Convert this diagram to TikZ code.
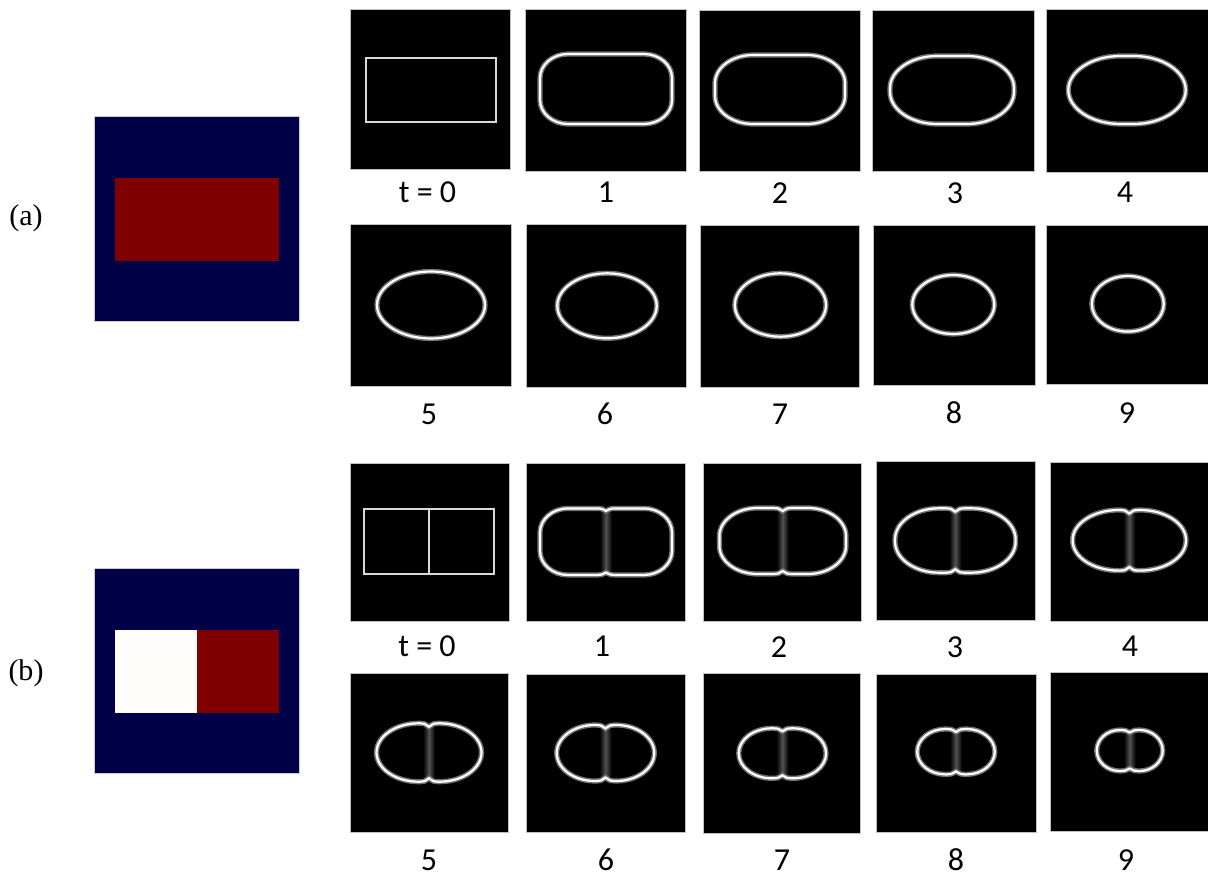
\documentclass[tikz,border=0pt]{standalone}
\usepackage{fontspec}
\setmainfont{Liberation Serif}
\newfontfamily\framefont{Carlito}
\definecolor{bgnavy}{RGB}{0,0,72}
\definecolor{hotred}{RGB}{128,0,0}
\newcommand{\frontpath}[7]{%
  ({#1},{#2-#4+#7}) .. controls ({#1-5},{#2-#4}) .. ({#1-9},{#2-#4})
  -- ({#1-#3+#5},{#2-#4}) .. controls ({#1-#3+0.45*#5},{#2-#4}) and ({#1-#3},{#2-#4+0.45*#6}) .. ({#1-#3},{#2-#4+#6})
  -- ({#1-#3},{#2+#4-#6}) .. controls ({#1-#3},{#2+#4-0.45*#6}) and ({#1-#3+0.45*#5},{#2+#4}) .. ({#1-#3+#5},{#2+#4})
  -- ({#1-9},{#2+#4}) .. controls ({#1-5},{#2+#4}) .. ({#1},{#2+#4-#7})
  .. controls ({#1+5},{#2+#4}) .. ({#1+9},{#2+#4})
  -- ({#1+#3-#5},{#2+#4}) .. controls ({#1+#3-0.45*#5},{#2+#4}) and ({#1+#3},{#2+#4-0.45*#6}) .. ({#1+#3},{#2+#4-#6})
  -- ({#1+#3},{#2-#4+#6}) .. controls ({#1+#3},{#2-#4+0.45*#6}) and ({#1+#3-0.45*#5},{#2-#4}) .. ({#1+#3-#5},{#2-#4})
  -- ({#1+9},{#2-#4}) .. controls ({#1+5},{#2-#4}) .. cycle}
\newcommand{\seam}[3]{\shade[left color=black,right color=black,middle color=black!68]
  ({#1-6},{#2-#3}) rectangle ({#1+6},{#2+#3});}

\begin{document}
\begin{tikzpicture}[x=0.5pt,y=-0.5pt,
  panel/.style={fill=black,draw=black!25,line width=0.3pt},
  front/.style={draw=white,line width=1.1pt,preaction={draw=white!45!black,line width=2.6pt}},
  seed/.style={draw=white!85!black,line width=0.9pt},
  lab/.style={font=\framefont\fontsize{16}{18}\selectfont,inner sep=0pt},
  tag/.style={font=\fontsize{15}{18}\selectfont,inner sep=0pt}]
\useasboundingbox (0,0) rectangle (1208,876);

\node[tag] (taga) at (26,218) {(a)};
\node[tag] (tagb) at (26,673) {(b)};
\fill[bgnavy,draw=gray!40,line width=0.3pt] (94,116) rectangle (299,321);
\fill[hotred] (115,178) rectangle (279,261);
\fill[bgnavy,draw=gray!40,line width=0.3pt] (94,568) rectangle (299,773);
\fill[white!99!red] (114.5,629.5) rectangle (197,712.5);
\fill[hotred] (197,629.5) rectangle (279,712.5);

\draw[panel] (350,9) rectangle (510,169);
\draw[panel] (525,9) rectangle (686,171);
\draw[panel] (699,10) rectangle (860,171);
\draw[panel] (872,10) rectangle (1034,171);
\draw[panel] (1046,9) rectangle (1208,172);
\draw[seed] (366,58) rectangle (496,122);
\draw[front] \frontpath{606}{89}{66}{35}{28}{24}{0};
\draw[front] \frontpath{780}{89.5}{65}{34.5}{38}{28}{0};
\draw[front] \frontpath{952}{90}{62}{34}{47}{32}{0};
\draw[front] \frontpath{1127}{90}{58.7}{34}{52}{34}{0};
\node[lab] (ta0) at (427.5,192) {t = 0};
\node[lab] (ta1) at (606,192) {1};
\node[lab] (ta2) at (780,193) {2};
\node[lab] (ta3) at (955,193) {3};
\node[lab] (ta4) at (1125,192) {4};

\draw[panel] (350,224) rectangle (511,386);
\draw[panel] (526,224) rectangle (686,387);
\draw[panel] (700,225) rectangle (859,387);
\draw[panel] (873,225) rectangle (1035,385);
\draw[panel] (1046,225) rectangle (1208,384);
\draw[front] (431,305) ellipse [x radius=54,y radius=33.5];
\draw[front] (607,305.8) ellipse [x radius=49.7,y radius=32.5];
\draw[front] (780.4,305) ellipse [x radius=45.6,y radius=31.7];
\draw[front] (953.3,304.5) ellipse [x radius=41,y radius=29.5];
\draw[front] (1127.8,303.8) ellipse [x radius=36,y radius=27.8];
\node[lab] (ta5) at (429,414) {5};
\node[lab] (ta6) at (605,414) {6};
\node[lab] (ta7) at (780,414) {7};
\node[lab] (ta8) at (954,413) {8};
\node[lab] (ta9) at (1127,413) {9};

\draw[panel] (350,463) rectangle (509,621);
\draw[panel] (526,463) rectangle (685,621);
\draw[panel] (703,463) rectangle (861,621);
\draw[panel] (876,461) rectangle (1035,620);
\draw[panel] (1050,462) rectangle (1208,621);
\draw[seed] (364,509) rectangle (494,574);
\draw[seed] (429,509) -- (429,574);
\seam{606}{541.7}{30}
\draw[front] \frontpath{606}{541.7}{66}{33.3}{28}{24}{2.5};
\seam{782.7}{541}{30}
\draw[front] \frontpath{782.7}{541}{63.3}{33}{38}{28}{3};
\seam{955.3}{540.5}{28}
\draw[front] \frontpath{955.3}{540.5}{60.3}{32.2}{44}{31}{3.5};
\seam{1129.3}{540.3}{26}
\draw[front] \frontpath{1129.3}{540.3}{56.7}{30.3}{46}{30}{3.5};
\node[lab] (tb0) at (427,646) {t = 0};
\node[lab] (tb1) at (602,646) {1};
\node[lab] (tb2) at (779,647) {2};
\node[lab] (tb3) at (955,647) {3};
\node[lab] (tb4) at (1130,646) {4};

\draw[panel] (350,673) rectangle (508,832);
\draw[panel] (526,674) rectangle (685,832);
\draw[panel] (703,673) rectangle (860,833);
\draw[panel] (876,674) rectangle (1036,832);
\draw[panel] (1050,672) rectangle (1208,831);
\seam{429}{752.5}{25}
\draw[front] \frontpath{429}{752.5}{52.5}{29.2}{42}{29.2}{3.5};
\seam{605.5}{753}{24}
\draw[front] \frontpath{605.5}{753}{48.8}{28}{38}{28}{3.5};
\seam{782.4}{753.3}{22}
\draw[front] \frontpath{782.4}{753.3}{43.7}{25}{33}{25}{3};
\seam{956}{751.7}{19.5}
\draw[front] \frontpath{956}{751.7}{38.8}{22.7}{28}{22.7}{3};
\seam{1129.7}{750.5}{18}
\draw[front] \frontpath{1129.7}{750.5}{33}{20.5}{23}{20.5}{2.5};
\node[lab] (tb5) at (429,860) {5};
\node[lab] (tb6) at (606,860) {6};
\node[lab] (tb7) at (782,860) {7};
\node[lab] (tb8) at (956,860) {8};
\node[lab] (tb9) at (1126,860) {9};
\end{tikzpicture}
\end{document}
